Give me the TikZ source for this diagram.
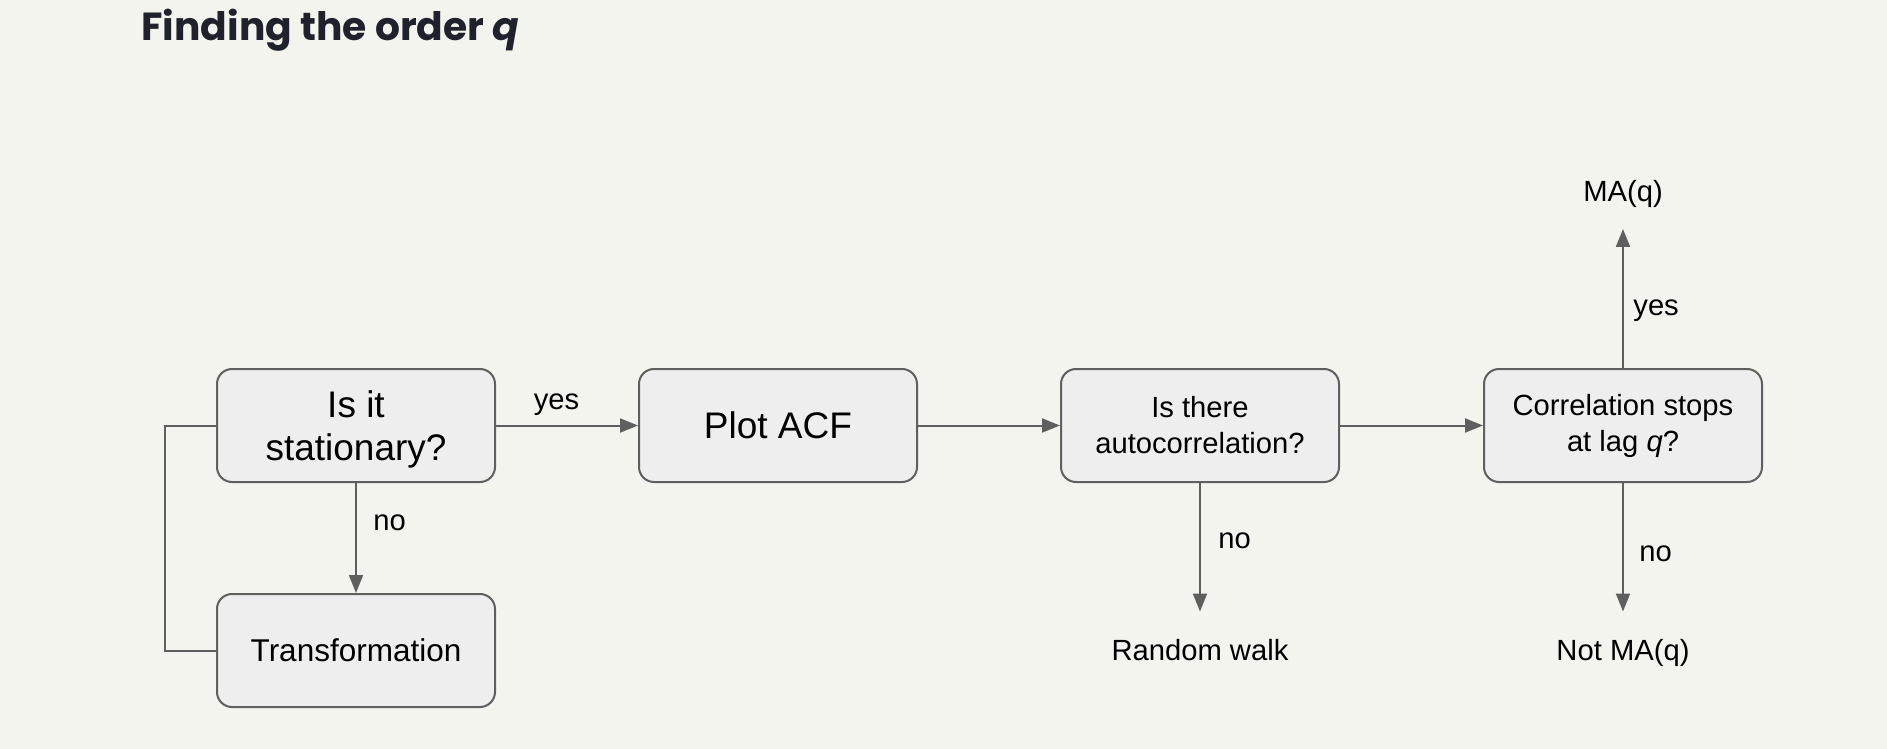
\documentclass[tikz,border=0pt]{standalone}
\usepackage{fontspec}
\setmainfont{Liberation Sans}
\newfontfamily\titlefont{Poppins}
\usetikzlibrary{arrows.meta}
\definecolor{bg}{HTML}{F4F4EE}
\definecolor{boxfill}{HTML}{EEEEEE}
\definecolor{edge}{HTML}{5F5F5F}
\definecolor{titlecol}{HTML}{1F222C}
\begin{document}
\begin{tikzpicture}[x=0.5pt,y=-0.5pt,
  box/.style={draw=edge,line width=1pt,fill=boxfill,rounded corners=7.5pt,minimum width=139pt,minimum height=56.5pt,inner sep=0pt,align=center,text=black},
  big/.style={font=\fontsize{18.5}{21.5}\selectfont},
  small/.style={font=\fontsize{14.6}{18}\selectfont},
  conn/.style={draw=edge,line width=1pt},
  arr/.style={conn,-{Triangle[length=9pt,width=7pt]}},
  lbl/.style={font=\fontsize{14.6}{18}\selectfont,inner sep=0pt,text=black}]
\fill[bg] (0,0) rectangle (1887,749);
\useasboundingbox (0,0) rectangle (1887,749);

\node[anchor=base west,inner sep=0pt,text=titlecol,font=\titlefont\bfseries\fontsize{19.6}{24}\selectfont] (title) at (141,40.7) {Finding the order \textit{q}};

\node[box,big,text depth=0pt] (stat) at (356,425.5) {Is it\\stationary?};
\node[box,big] (acf) at (778,425.5) {Plot ACF};
\node[box,small] (auto) at (1200,425.5) {Is there\\autocorrelation?};
\node[box,small] (stops) at (1623,425.5) {Correlation stops\\at lag \textit{q}?};
\node[box,font=\fontsize{15.75}{18}\selectfont] (trans) at (356,650.5) {Transformation};

\node[lbl,anchor=base] (rw) at (1200,660.7) {Random walk};
\node[lbl,anchor=base] (notma) at (1623,660.7) {Not MA(q)};
\node[lbl,anchor=base] (ma) at (1623,201.7) {MA(q)};

\coordinate (rwtip) at (1200,611.5);
\coordinate (notmatip) at (1623,611.5);
\coordinate (matip) at (1623,229);

\draw[arr] (stat.east) -- (acf.west);
\draw[arr] (stat.south) -- (trans.north);
\draw[conn] (trans.west) -- ++(-51,0) |- (stat.west);
\draw[arr] (acf.east) -- (auto.west);
\draw[arr] (auto.east) -- (stops.west);
\draw[arr] (auto.south) -- (rwtip);
\draw[arr] (stops.south) -- (notmatip);
\draw[arr] (stops.north) -- (matip);

\node[lbl,anchor=base] (l1) at (556.5,409) {yes};
\node[lbl,anchor=base west] (l2) at (373,530) {no};
\node[lbl,anchor=base west] (l3) at (1218,548) {no};
\node[lbl,anchor=base west] (l4) at (1639,561.5) {no};
\node[lbl,anchor=base west] (l5) at (1633,315) {yes};
\end{tikzpicture}
\end{document}
